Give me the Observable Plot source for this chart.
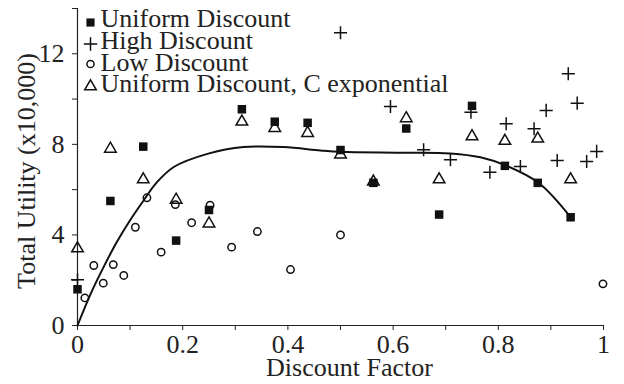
<!DOCTYPE html>
<html>
<head>
<meta charset="utf-8">
<script src="https://cdn.jsdelivr.net/npm/d3@7"></script>
<script src="https://cdn.jsdelivr.net/npm/@observablehq/plot@0.6"></script>
<style>
  html, body { margin: 0; padding: 0; background: #fff; }
</style>
</head>
<body>
<div id="chart"></div>
<script>
// ---- Data ----
const seriesNames = ["Uniform Discount", "High Discount", "Low Discount", "Uniform Discount, C exponential"];

const uniformX = [0, 0.0625, 0.125, 0.1875, 0.25, 0.3125, 0.375, 0.4375, 0.5, 0.5625, 0.625, 0.6875, 0.75, 0.8125, 0.875, 0.9375];
const uniformY = [1.6, 5.5, 7.9, 3.75, 5.1, 9.55, 9.0, 8.95, 7.75, 6.3, 8.7, 4.9, 9.7, 7.05, 6.3, 4.78];

const expoX = [0, 0.0625, 0.125, 0.1875, 0.25, 0.3125, 0.375, 0.4375, 0.5, 0.5625, 0.625, 0.6875, 0.75, 0.8125, 0.875, 0.9375];
const expoY = [3.4, 7.8, 6.45, 5.55, 4.5, 9.0, 8.72, 8.5, 7.55, 6.35, 9.15, 6.45, 8.35, 8.15, 8.25, 6.45];

const highX = [0, 0.5, 0.595, 0.658, 0.709, 0.748, 0.784, 0.815, 0.842, 0.868, 0.891, 0.912, 0.933, 0.95, 0.968, 0.987];
const highY = [2.02, 12.93, 9.67, 7.76, 7.32, 9.42, 6.77, 8.91, 7.02, 8.69, 9.5, 7.29, 11.12, 9.82, 7.24, 7.69];

const lowX = [0.014, 0.031, 0.049, 0.068, 0.088, 0.11, 0.132, 0.159, 0.186, 0.217, 0.252, 0.293, 0.342, 0.405, 0.5, 0.999];
const lowY = [1.22, 2.65, 1.87, 2.69, 2.21, 4.34, 5.64, 3.24, 5.34, 4.54, 5.31, 3.46, 4.15, 2.47, 4.0, 1.84];

// trend curve
const curveX = [0, 0.025, 0.05, 0.075, 0.1, 0.125, 0.15, 0.183, 0.247, 0.316, 0.392, 0.462, 0.5, 0.614, 0.709, 0.766, 0.814, 0.877, 0.9375];
const curveY = [0, 1.4, 2.6, 3.7, 4.65, 5.5, 6.3, 7.0, 7.58, 7.88, 7.88, 7.73, 7.67, 7.63, 7.6, 7.43, 7.07, 6.29, 4.78];

const xTicks = [0, 0.1, 0.2, 0.3, 0.4, 0.5, 0.6, 0.7, 0.8, 0.9, 1];
const xTickLabels = ["0", "", "0.2", "", "0.4", "", "0.6", "", "0.8", "", "1"];
const yTicks = [0, 2, 4, 6, 8, 10, 12, 14];
const yTickLabels = ["0", "", "4", "", "8", "", "12", ""];

const xTitle = "Discount Factor";
const yTitle = "Total Utility (x10,000)";

// ---- Build tables ----
const zip = (xs, ys) => xs.map((x, i) => ({x, y: ys[i]}));
const uniform = zip(uniformX, uniformY);
const expo = zip(expoX, expoY);
const high = zip(highX, highY);
const low = zip(lowX, lowY);
const curve = zip(curveX, curveY);

const symbols = ["square", "plus", "circle", "triangle"];
const lineStep = 21.7;

const legendMarks = seriesNames.flatMap((name, i) => {
  const sym = symbols[i];
  const filled = sym === "square";
  const r = sym === "square" ? 4.6 : sym === "plus" ? 4.4 : sym === "circle" ? 3.6 : 4.3;
  const markerDy = [14, 35.5, 55.5, 78][i];
  return [
    Plot.dot([name], {
      frameAnchor: "top-left", dx: 13, dy: markerDy, symbol: sym, r,
      fill: filled ? "#111" : "none", stroke: filled ? "none" : "#111", strokeWidth: 1.5
    }),
    Plot.text([name], {
      frameAnchor: "top-left", dx: 23, dy: 10.5 + i * lineStep, text: d => d,
      textAnchor: "start", lineAnchor: "middle", fill: "#222", fontSize: 26
    })
  ];
});

const chart = Plot.plot({
  width: 624,
  height: 384,
  marginLeft: 77,
  marginRight: 21,
  marginTop: 8,
  marginBottom: 59,
  style: {fontFamily: "'Liberation Serif', 'Times New Roman', serif", fontSize: "26px", background: "#fff", color: "#222"},
  x: {domain: [0, 1]},
  y: {domain: [0, 14]},
  marks: [
    Plot.axisX({ticks: xTicks, tickSize: 5, tickPadding: 4, tickFormat: (d) => xTickLabels[xTicks.indexOf(d)], label: null, fontSize: 26}),
    Plot.axisY({ticks: yTicks, tickSize: 5, tickPadding: 8, tickFormat: (d) => yTickLabels[yTicks.indexOf(d)], label: null, fontSize: 26}),
    Plot.ruleX([0], {stroke: "#222", strokeWidth: 1.2}),
    Plot.ruleY([0], {stroke: "#222", strokeWidth: 1.2}),
    Plot.line(curve, {x: "x", y: "y", curve: "catmull-rom", stroke: "#111", strokeWidth: 2}),
    Plot.dot(low, {x: "x", y: "y", symbol: "circle", r: 3.7, fill: "none", stroke: "#111", strokeWidth: 1.5}),
    Plot.dot(high, {x: "x", y: "y", symbol: "plus", r: 4.3, stroke: "#111", strokeWidth: 1.5}),
    Plot.dot(expo, {x: "x", y: "y", symbol: "triangle", r: 4.3, fill: "none", stroke: "#111", strokeWidth: 1.5}),
    Plot.dot(uniform, {x: "x", y: "y", symbol: "square", r: 4.8, fill: "#111", stroke: "none"}),
    ...legendMarks,
    Plot.text([yTitle], {frameAnchor: "left", dx: -50.5, dy: 4, rotate: -90, textAnchor: "middle", lineAnchor: "middle", text: d => d, fill: "#222", fontSize: 26}),
    Plot.text([xTitle], {frameAnchor: "bottom", dx: 9, dy: 42.5, textAnchor: "middle", lineAnchor: "middle", text: d => d, fill: "#222", fontSize: 26})
  ]
});
document.getElementById("chart").appendChild(chart);
</script>
</body>
</html>
